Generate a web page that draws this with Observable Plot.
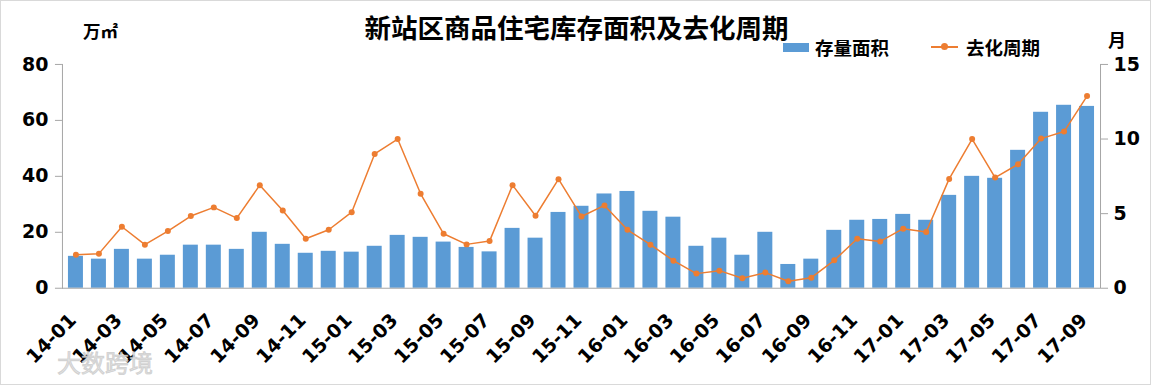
<!DOCTYPE html>
<html>
<head>
<meta charset="utf-8">
<script src="https://cdn.jsdelivr.net/npm/d3@7"></script>
<script src="https://cdn.jsdelivr.net/npm/@observablehq/plot@0.6"></script>
<style>
  html, body { margin: 0; padding: 0; background: #fff; }
  #wrap { position: relative; width: 1151px; height: 385px; overflow: hidden; box-sizing: border-box; border: 1px solid #d9d9d9; }
  #chart { position: absolute; left: -1px; top: -1px; }
  .t { position: absolute; white-space: nowrap; font-family: "Noto Sans CJK SC", sans-serif; font-weight: 700; color: #000; line-height: 1; }
  #title { left: 0; width: 1151px; text-align: center; top: 13px; font-size: 26.5px; }
  #unitL { left: 82px; top: 21px; font-size: 17.5px; }
  #unitR { left: 1107px; top: 29px; font-size: 18px; }
  .leg { top: 37px; font-size: 18.5px; display: flex; align-items: center; }
  .sw { display: inline-block; width: 26px; height: 9px; background: #5B9BD5; margin-right: 6px; }
  .ln { position: relative; display: inline-block; width: 27px; height: 2px; background: #ED7D31; margin-right: 8px; }
  .ln::after { content: ""; position: absolute; left: 10px; top: -3px; width: 7px; height: 7px; border-radius: 50%; background: #ED7D31; }
  #wm { left: 56px; top: 349px; font-size: 24px; color: rgba(225,225,225,0.9); font-weight: 400; -webkit-text-stroke: 1px rgba(175,175,175,0.45); }
</style>
</head>
<body>
<div id="wrap">
  <div id="chart"></div>
  <div class="t" id="title">新站区商品住宅库存面积及去化周期</div>
  <div class="t" id="unitL">万㎡</div>
  <div class="t" id="unitR">月</div>
  <div class="t leg" style="left:782px"><span class="sw"></span>存量面积</div>
  <div class="t leg" style="left:930px"><span class="ln"></span>去化周期</div>
  <div class="t" id="wm">大数跨境</div>
</div>
<script>
const months = [
  "14-01","14-02","14-03","14-04","14-05","14-06","14-07","14-08","14-09","14-10","14-11","14-12",
  "15-01","15-02","15-03","15-04","15-05","15-06","15-07","15-08","15-09","15-10","15-11","15-12",
  "16-01","16-02","16-03","16-04","16-05","16-06","16-07","16-08","16-09","16-10","16-11","16-12",
  "17-01","17-02","17-03","17-04","17-05","17-06","17-07","17-08","17-09"
];
// 存量面积 (万㎡)
const stock = [
  11.4, 10.4, 13.9, 10.4, 11.8, 15.4, 15.4, 13.9, 20.0, 15.7, 12.5, 13.2,
  12.9, 15.0, 18.9, 18.2, 16.5, 14.6, 13.0, 21.4, 17.9, 27.1, 29.3, 33.7,
  34.6, 27.5, 25.4, 15.0, 17.9, 11.8, 20.0, 8.5, 10.4, 20.7, 24.3, 24.6,
  26.4, 24.3, 33.2, 40.0, 39.3, 49.3, 62.9, 65.4, 65.0
];
// 去化周期 (月)
const cycle = [
  2.25, 2.32, 4.12, 2.92, 3.83, 4.84, 5.42, 4.70, 6.91, 5.21, 3.32, 3.92,
  5.10, 9.00, 10.0, 6.33, 3.65, 2.94, 3.16, 6.91, 4.86, 7.31, 4.81, 5.55,
  3.92, 2.92, 1.85, 0.98, 1.18, 0.67, 1.05, 0.47, 0.71, 1.87, 3.32, 3.14,
  3.99, 3.77, 7.33, 10.0, 7.42, 8.31, 10.03, 10.5, 12.88
];
const leftTicks = [0, 20, 40, 60, 80];
const rightTicks = [0, 5, 10, 15];
const xTickLabels = months.filter((d, i) => i % 2 === 0);

const leftMax = 80, rightMax = 15;
const toLeft = v => v * leftMax / rightMax;

const data = months.map((m, i) => ({m, stock: stock[i], cycle: cycle[i]}));

const chart = Plot.plot({
  width: 1151,
  height: 385,
  marginLeft: 62,
  marginRight: 50,
  marginTop: 64,
  marginBottom: 97,
  style: {fontFamily: "DejaVu Sans", fontSize: "19px", fontWeight: "bold", color: "#000", background: "transparent"},
  x: {domain: months, paddingInner: 0.34, paddingOuter: 0.17, label: null},
  y: {domain: [0, leftMax], label: null},
  marks: [
    Plot.barY(data, {x: "m", y: "stock", fill: "#5B9BD5"}),
    Plot.ruleY([0], {stroke: "#a6a6a6", strokeWidth: 1}),
    Plot.frame({anchor: "left", stroke: "#a6a6a6"}),
    Plot.frame({anchor: "right", stroke: "#a6a6a6"}),
    Plot.line(data, {x: "m", y: d => toLeft(d.cycle), stroke: "#ED7D31", strokeWidth: 1.5}),
    Plot.dot(data, {x: "m", y: d => toLeft(d.cycle), fill: "#ED7D31", r: 3}),
    Plot.axisY(leftTicks, {anchor: "left", tickSize: 7, tickPadding: 7, stroke: "#a6a6a6", fill: "#000", label: null}),
    Plot.axisY(rightTicks.map(toLeft), {anchor: "right", tickSize: 7, tickPadding: 6, stroke: "#a6a6a6", fill: "#000",
      tickFormat: v => String(Math.round(v * rightMax / leftMax)), label: null}),
    Plot.axisX(xTickLabels, {anchor: "bottom", tickSize: 0, tickRotate: -45, tickPadding: 29, dx: -3, fill: "#000", fontSize: "19px", label: null})
  ]
});
document.getElementById("chart").appendChild(chart);
</script>
</body>
</html>
